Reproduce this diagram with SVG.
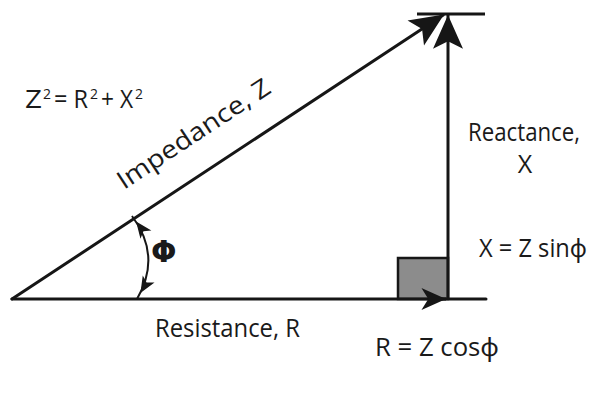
<svg xmlns="http://www.w3.org/2000/svg" width="600" height="400" viewBox="0 0 600 400">
<style>
.ln{stroke:#161616;stroke-width:3;fill:none}
.t{font-family:"Open Sans","Noto Sans",sans-serif;font-size:25px;fill:#1a1a1a}
.sup{font-family:"Open Sans","Noto Sans",sans-serif;font-size:14px;fill:#1a1a1a}
.phi{font-family:"DejaVu Sans",sans-serif;font-weight:bold;font-size:30px;fill:#1a1a1a}
</style>
<defs>
<marker id="big" markerUnits="userSpaceOnUse" orient="auto" refX="0" refY="0" markerWidth="40" markerHeight="40" viewBox="-30 -15 32 30" overflow="visible">
<path d="M0,0 L-27,-12 L-21,0 L-27,12 Z" fill="#161616"/>
</marker>
<marker id="small" markerUnits="userSpaceOnUse" orient="auto" refX="0" refY="0" markerWidth="30" markerHeight="30" viewBox="-20 -10 22 20" overflow="visible">
<path d="M0,0 L-18,-8 L-13,0 L-18,8 Z" fill="#161616"/>
</marker>
<marker id="arc" markerUnits="userSpaceOnUse" orient="auto-start-reverse" refX="0" refY="0" markerWidth="30" markerHeight="30" viewBox="-20 -10 22 20" overflow="visible">
<path d="M-5,0 L-17,-5 L-14,0 L-17,5 Z" fill="#161616"/>
</marker>
</defs>
<rect id="right-angle" x="398" y="258" width="50" height="41" fill="#8c8c8c" stroke="#161616" stroke-width="2.5"/>
<g id="connectors">
<line class="ln" x1="417" y1="14" x2="485" y2="14"/>
<line class="ln" x1="12" y1="299" x2="428" y2="25" stroke-linecap="round"/>
<path d="M428,25 L444,14.5" class="ln" stroke-width="0.1" marker-end="url(#big)"/>
<line class="ln" x1="448" y1="299" x2="448" y2="36"/>
<path d="M448,36 L448,15" class="ln" stroke-width="0.1" marker-end="url(#big)"/>
<line class="ln" x1="12" y1="299" x2="486" y2="299" stroke-linecap="round"/>
<path d="M430,299 L446,299" class="ln" stroke-width="0.1" marker-end="url(#small)"/>
<path d="M132,216 Q162,256 137,299" stroke="#161616" stroke-width="2" fill="none" marker-start="url(#arc)" marker-end="url(#arc)"/>
</g>
<g id="formula">
<text class="t" x="25" y="108" textLength="17" lengthAdjust="spacingAndGlyphs">Z</text>
<text class="sup" x="43" y="99">2</text>
<text class="t" x="54" y="108" textLength="34" lengthAdjust="spacingAndGlyphs">= R</text>
<text class="sup" x="90" y="99">2</text>
<text class="t" x="101" y="108" textLength="32" lengthAdjust="spacingAndGlyphs">+ X</text>
<text class="sup" x="135" y="99">2</text>
</g>
<g id="impedance"><text class="t" font-size="27" transform="translate(124,190) rotate(-33.5)" textLength="178" lengthAdjust="spacingAndGlyphs">Impedance, Z</text></g>
<g id="reactance"><text class="t" font-size="23" x="468" y="141" textLength="112" lengthAdjust="spacingAndGlyphs">Reactance,</text><text class="t" font-size="22" x="525" y="173" text-anchor="middle">X</text></g>
<g id="phi"><text class="phi" x="151" y="262">Φ</text></g>
<g id="xsin"><text class="t" x="479" y="257" textLength="108" lengthAdjust="spacingAndGlyphs">X = Z sinϕ</text></g>
<g id="resistance"><text class="t" x="155" y="337" textLength="145" lengthAdjust="spacingAndGlyphs">Resistance, R</text></g>
<g id="rcos"><text class="t" x="375" y="356" textLength="124" lengthAdjust="spacingAndGlyphs">R = Z cosϕ</text></g>
</svg>
